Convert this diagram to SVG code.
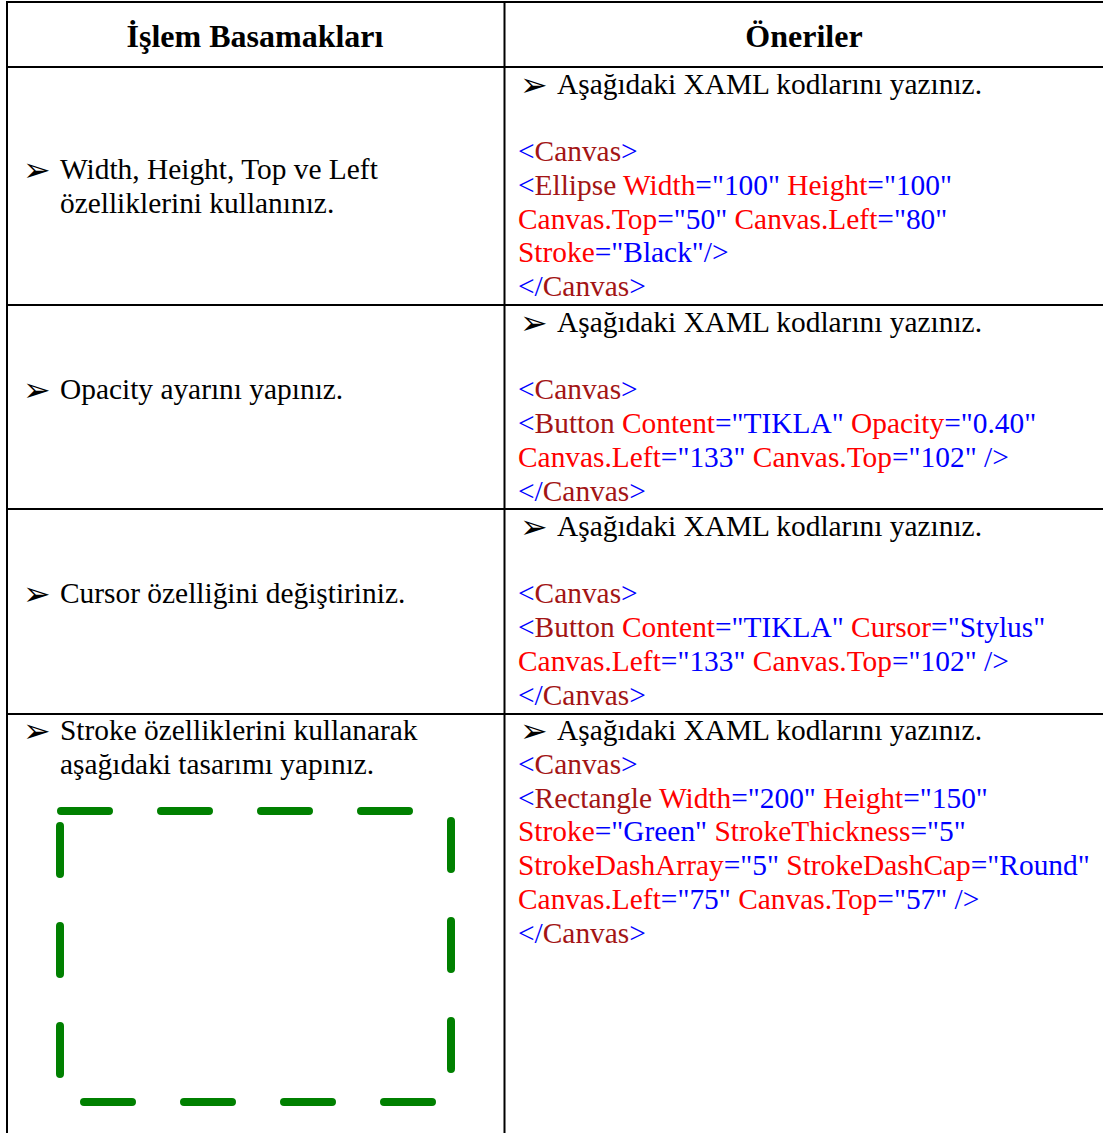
<svg xmlns="http://www.w3.org/2000/svg" width="1103" height="1133" viewBox="0 0 1103 1133">
<style>
.t{font-family:"Liberation Serif","Times New Roman",serif;font-size:29.4px;fill:#000}
.h{font-family:"Liberation Serif","Times New Roman",serif;font-size:32px;font-weight:bold;fill:#000}
.bl{font-family:"DejaVu Sans",sans-serif;font-size:33px;fill:#000}
.b{fill:#0000ff}.r{fill:#ff0000}.d{fill:#a31515}
.grid{stroke:#000;stroke-width:2;fill:none}
</style>
<rect width="1103" height="1133" fill="#fff"/>
<g id="grid" class="grid">
<line x1="6" y1="2" x2="1103" y2="2"/>
<line x1="7" y1="1" x2="7" y2="1133"/>
<line x1="504.5" y1="1" x2="504.5" y2="1133"/>
<line x1="6" y1="67" x2="1103" y2="67"/>
<line x1="6" y1="305" x2="1103" y2="305"/>
<line x1="6" y1="509" x2="1103" y2="509"/>
<line x1="6" y1="714" x2="1103" y2="714"/>
</g>
<g id="header">
<text class="h" x="255" y="47" text-anchor="middle">İşlem Basamakları</text>
<text class="h" x="804" y="47" text-anchor="middle">Öneriler</text>
</g>
<g id="row1">
<text class="bl" x="23" y="181">➢</text>
<text class="t" x="60" y="179">Width, Height, Top ve Left</text>
<text class="t" x="60" y="213">özelliklerini kullanınız.</text>
<text class="bl" x="520" y="96">➢</text>
<text class="t" x="557" y="94">Aşağıdaki XAML kodlarını yazınız.</text>
<text class="t" x="518" y="161"><tspan class="b">&lt;</tspan><tspan class="d">Canvas</tspan><tspan class="b">&gt;</tspan></text>
<text class="t" x="518" y="195"><tspan class="b">&lt;</tspan><tspan class="d">Ellipse</tspan><tspan class="r"> Width</tspan><tspan class="b">="100"</tspan><tspan class="r"> Height</tspan><tspan class="b">="100"</tspan></text>
<text class="t" x="518" y="229"><tspan class="r">Canvas.Top</tspan><tspan class="b">="50"</tspan><tspan class="r"> Canvas.Left</tspan><tspan class="b">="80"</tspan></text>
<text class="t" x="518" y="262"><tspan class="r">Stroke</tspan><tspan class="b">="Black"/&gt;</tspan></text>
<text class="t" x="518" y="296"><tspan class="b">&lt;/</tspan><tspan class="d">Canvas</tspan><tspan class="b">&gt;</tspan></text>
</g>
<g id="row2">
<text class="bl" x="23" y="401">➢</text>
<text class="t" x="60" y="399">Opacity ayarını yapınız.</text>
<text class="bl" x="520" y="334">➢</text>
<text class="t" x="557" y="332">Aşağıdaki XAML kodlarını yazınız.</text>
<text class="t" x="518" y="399"><tspan class="b">&lt;</tspan><tspan class="d">Canvas</tspan><tspan class="b">&gt;</tspan></text>
<text class="t" x="518" y="433"><tspan class="b">&lt;</tspan><tspan class="d">Button</tspan><tspan class="r"> Content</tspan><tspan class="b">="TIKLA"</tspan><tspan class="r"> Opacity</tspan><tspan class="b">="0.40"</tspan></text>
<text class="t" x="518" y="467"><tspan class="r">Canvas.Left</tspan><tspan class="b">="133"</tspan><tspan class="r"> Canvas.Top</tspan><tspan class="b">="102" /&gt;</tspan></text>
<text class="t" x="518" y="501"><tspan class="b">&lt;/</tspan><tspan class="d">Canvas</tspan><tspan class="b">&gt;</tspan></text>
</g>
<g id="row3">
<text class="bl" x="23" y="605">➢</text>
<text class="t" x="60" y="603">Cursor özelliğini değiştiriniz.</text>
<text class="bl" x="520" y="538">➢</text>
<text class="t" x="557" y="536">Aşağıdaki XAML kodlarını yazınız.</text>
<text class="t" x="518" y="603"><tspan class="b">&lt;</tspan><tspan class="d">Canvas</tspan><tspan class="b">&gt;</tspan></text>
<text class="t" x="518" y="637"><tspan class="b">&lt;</tspan><tspan class="d">Button</tspan><tspan class="r"> Content</tspan><tspan class="b">="TIKLA"</tspan><tspan class="r"> Cursor</tspan><tspan class="b">="Stylus"</tspan></text>
<text class="t" x="518" y="671"><tspan class="r">Canvas.Left</tspan><tspan class="b">="133"</tspan><tspan class="r"> Canvas.Top</tspan><tspan class="b">="102" /&gt;</tspan></text>
<text class="t" x="518" y="705"><tspan class="b">&lt;/</tspan><tspan class="d">Canvas</tspan><tspan class="b">&gt;</tspan></text>
</g>
<g id="row4">
<text class="bl" x="23" y="742">➢</text>
<text class="t" x="60" y="740">Stroke özelliklerini kullanarak</text>
<text class="t" x="60" y="774">aşağıdaki tasarımı yapınız.</text>
<path d="M60 811 H451 V1102 H60 Z" fill="none" stroke="#008000" stroke-width="8" stroke-linecap="round" stroke-dasharray="48 52" stroke-dashoffset="-1"/>
<text class="bl" x="520" y="742">➢</text>
<text class="t" x="557" y="740">Aşağıdaki XAML kodlarını yazınız.</text>
<text class="t" x="518" y="774"><tspan class="b">&lt;</tspan><tspan class="d">Canvas</tspan><tspan class="b">&gt;</tspan></text>
<text class="t" x="518" y="808"><tspan class="b">&lt;</tspan><tspan class="d">Rectangle</tspan><tspan class="r"> Width</tspan><tspan class="b">="200"</tspan><tspan class="r"> Height</tspan><tspan class="b">="150"</tspan></text>
<text class="t" x="518" y="841"><tspan class="r">Stroke</tspan><tspan class="b">="Green"</tspan><tspan class="r"> StrokeThickness</tspan><tspan class="b">="5"</tspan></text>
<text class="t" x="518" y="875"><tspan class="r">StrokeDashArray</tspan><tspan class="b">="5"</tspan><tspan class="r"> StrokeDashCap</tspan><tspan class="b">="Round"</tspan></text>
<text class="t" x="518" y="909"><tspan class="r">Canvas.Left</tspan><tspan class="b">="75"</tspan><tspan class="r"> Canvas.Top</tspan><tspan class="b">="57" /&gt;</tspan></text>
<text class="t" x="518" y="943"><tspan class="b">&lt;/</tspan><tspan class="d">Canvas</tspan><tspan class="b">&gt;</tspan></text>
</g>
</svg>
